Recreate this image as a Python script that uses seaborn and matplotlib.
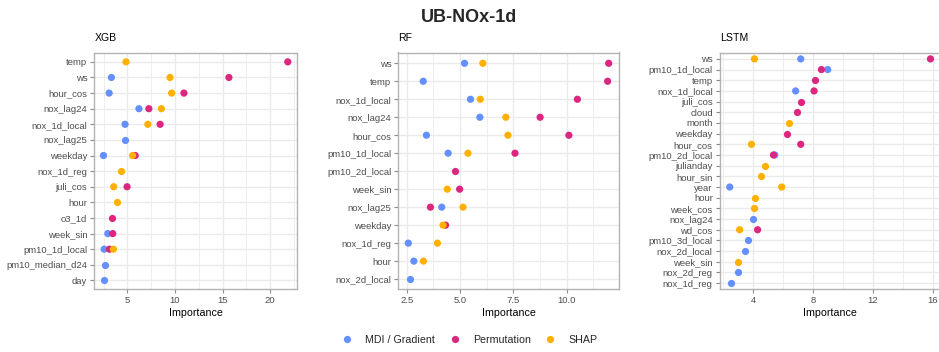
import numpy as np
import pandas as pd
import matplotlib
matplotlib.use("Agg")
import matplotlib.pyplot as plt
from matplotlib.ticker import MultipleLocator
from matplotlib.lines import Line2D
import seaborn as sns

nan = np.nan

methods = ["MDI / Gradient", "Permutation", "SHAP"]
colors = ["#648FFF", "#DC267F", "#FFB000"]

xgb_features = ["temp", "ws", "hour_cos", "nox_lag24", "nox_1d_local", "nox_lag25",
                "weekday", "nox_1d_reg", "juli_cos", "hour", "o3_1d", "week_sin",
                "pm10_1d_local", "pm10_median_d24", "day"]
xgb_mdi = [nan, 3.33, 3.09, 6.22, 4.76, 4.72, 2.50, nan, nan, nan, nan, 2.95, 2.57, 2.68, 2.50]
xgb_perm = [21.84, 15.66, 10.94, 7.26, 8.44, nan, 5.83, nan, 4.97, nan, 3.40, 3.47, 3.13, nan, nan]
xgb_shap = [4.86, 9.48, 9.65, 8.57, 7.15, nan, 5.56, 4.34, 3.57, 3.96, nan, nan, 3.54, nan, nan]

rf_features = ["ws", "temp", "nox_1d_local", "nox_lag24", "hour_cos", "pm10_1d_local",
               "pm10_2d_local", "week_sin", "nox_lag25", "weekday", "nox_1d_reg", "hour",
               "nox_2d_local"]
rf_mdi = [5.21, 3.27, 5.49, 5.93, 3.42, 4.44, nan, nan, 4.14, nan, 2.57, 2.83, 2.67]
rf_perm = [11.98, 11.93, 10.51, 8.76, 10.11, 7.58, 4.76, 4.98, 3.61, 4.32, nan, nan, nan]
rf_shap = [6.07, nan, 5.95, 7.15, 7.25, 5.37, nan, 4.40, 5.14, 4.20, 3.94, 3.28, nan]

lstm_features = ["ws", "pm10_1d_local", "temp", "nox_1d_local", "juli_cos", "cloud", "month",
                 "weekday", "hour_cos", "pm10_2d_local", "julianday", "hour_sin", "year",
                 "hour", "week_cos", "nox_lag24", "wd_cos", "pm10_3d_local", "nox_2d_local",
                 "week_sin", "nox_2d_reg", "nox_1d_reg"]
lstm_mdi = [7.18, 8.98, nan, 6.84, nan, nan, nan, nan, nan, 5.45, nan, nan, 2.44, nan, nan,
            3.97, nan, 3.69, 3.44, nan, 2.97, 2.53]
lstm_perm = [15.84, 8.56, 8.16, 8.07, 7.20, 6.93, nan, 6.27, 7.18, 5.36, nan, nan, nan, nan,
             nan, nan, 4.30, nan, nan, nan, nan, nan]
lstm_shap = [4.09, nan, nan, nan, nan, nan, 6.40, nan, 3.89, nan, 4.82, 4.55, 5.91, 4.15,
             4.04, nan, 3.10, nan, nan, 3.02, nan, nan]

panels = [
    ("XGB", xgb_features, [xgb_mdi, xgb_perm, xgb_shap], [5, 10, 15, 20], 5),
    ("RF", rf_features, [rf_mdi, rf_perm, rf_shap], [2.5, 5.0, 7.5, 10.0], 2.5),
    ("LSTM", lstm_features, [lstm_mdi, lstm_perm, lstm_shap], [4, 8, 12, 16], 4),
]

sns.set_style("white")
plt.rcParams["font.family"] = ["Liberation Sans", "DejaVu Sans"]

W, H = 939, 352
fig = plt.figure(figsize=(W / 100, H / 100), dpi=100)

# panel boxes in pixels: left, right
boxes = [(94.3, 297.0), (398.3, 618.7), (719.7, 940.5)]
top_px, bot_px = 52.5, 289.0

border = "#B3B3B3"
gridc = "#EBEBEB"

for (name, feats, vals, ticks, step), (l, r) in zip(panels, boxes):
    ax = fig.add_axes([l / W, 1 - bot_px / H, (r - l) / W, (bot_px - top_px) / H])
    rows = []
    for i, f in enumerate(feats):
        for m, v in zip(methods, vals):
            if not np.isnan(v[i]):
                rows.append({"feature": f, "method": m, "importance": v[i]})
    df = pd.DataFrame(rows)
    sns.stripplot(data=df, x="importance", y="feature", hue="method",
                  order=feats, hue_order=methods, palette=colors,
                  jitter=False, dodge=False, size=5.2, linewidth=0,
                  orient="h", ax=ax, legend=False, zorder=3)
    allv = df["importance"].values
    lo, hi = allv.min(), allv.max()
    pad = (hi - lo) * 0.05
    ax.set_xlim(lo - pad, hi + pad)
    n = len(feats)
    ax.set_ylim(n - 1 + 0.55, -0.6)
    ax.xaxis.set_major_locator(MultipleLocator(step))
    ax.xaxis.set_minor_locator(MultipleLocator(step / 2))
    ax.set_xticks(ticks)
    ax.set_xticklabels([("%g" % t) if step != 2.5 else ("%.1f" % t) for t in ticks])
    ax.grid(True, which="major", axis="both", color=gridc, linewidth=1.0, zorder=0)
    ax.grid(True, which="minor", axis="x", color=gridc, linewidth=0.6, zorder=0)
    ax.set_axisbelow(True)
    for s in ax.spines.values():
        s.set_color(border)
        s.set_linewidth(1.0)
    ax.tick_params(axis="both", which="major", length=3, width=0.8, color="#8C8C8C",
                   labelsize=6.8, labelcolor="#4D4D4D", pad=2, bottom=True, left=True)
    ax.tick_params(axis="x", which="minor", length=0)
    ax.set_ylabel("")
    ax.set_xlabel("Importance", fontsize=7.7, color="black", labelpad=2)
    fig.text(l / W, 1 - 38 / H, name, fontsize=7.6, ha="left", va="center", color="black")

fig.text(0.5, 1 - 17 / H, "UB-NOx-1d", fontsize=13, fontweight="bold",
         ha="center", va="center")

handles = [Line2D([0], [0], marker="o", linestyle="", markersize=5.2,
                  markerfacecolor=c, markeredgewidth=0, label=m)
           for m, c in zip(methods, colors)]
fig.legend(handles=handles, loc="center", bbox_to_anchor=(0.5, 1 - 340 / H),
           ncol=3, frameon=False, fontsize=7.7, handlelength=1.0,
           handletextpad=1.2, columnspacing=1.3, borderaxespad=0)

fig.savefig("out.png", dpi=100)
